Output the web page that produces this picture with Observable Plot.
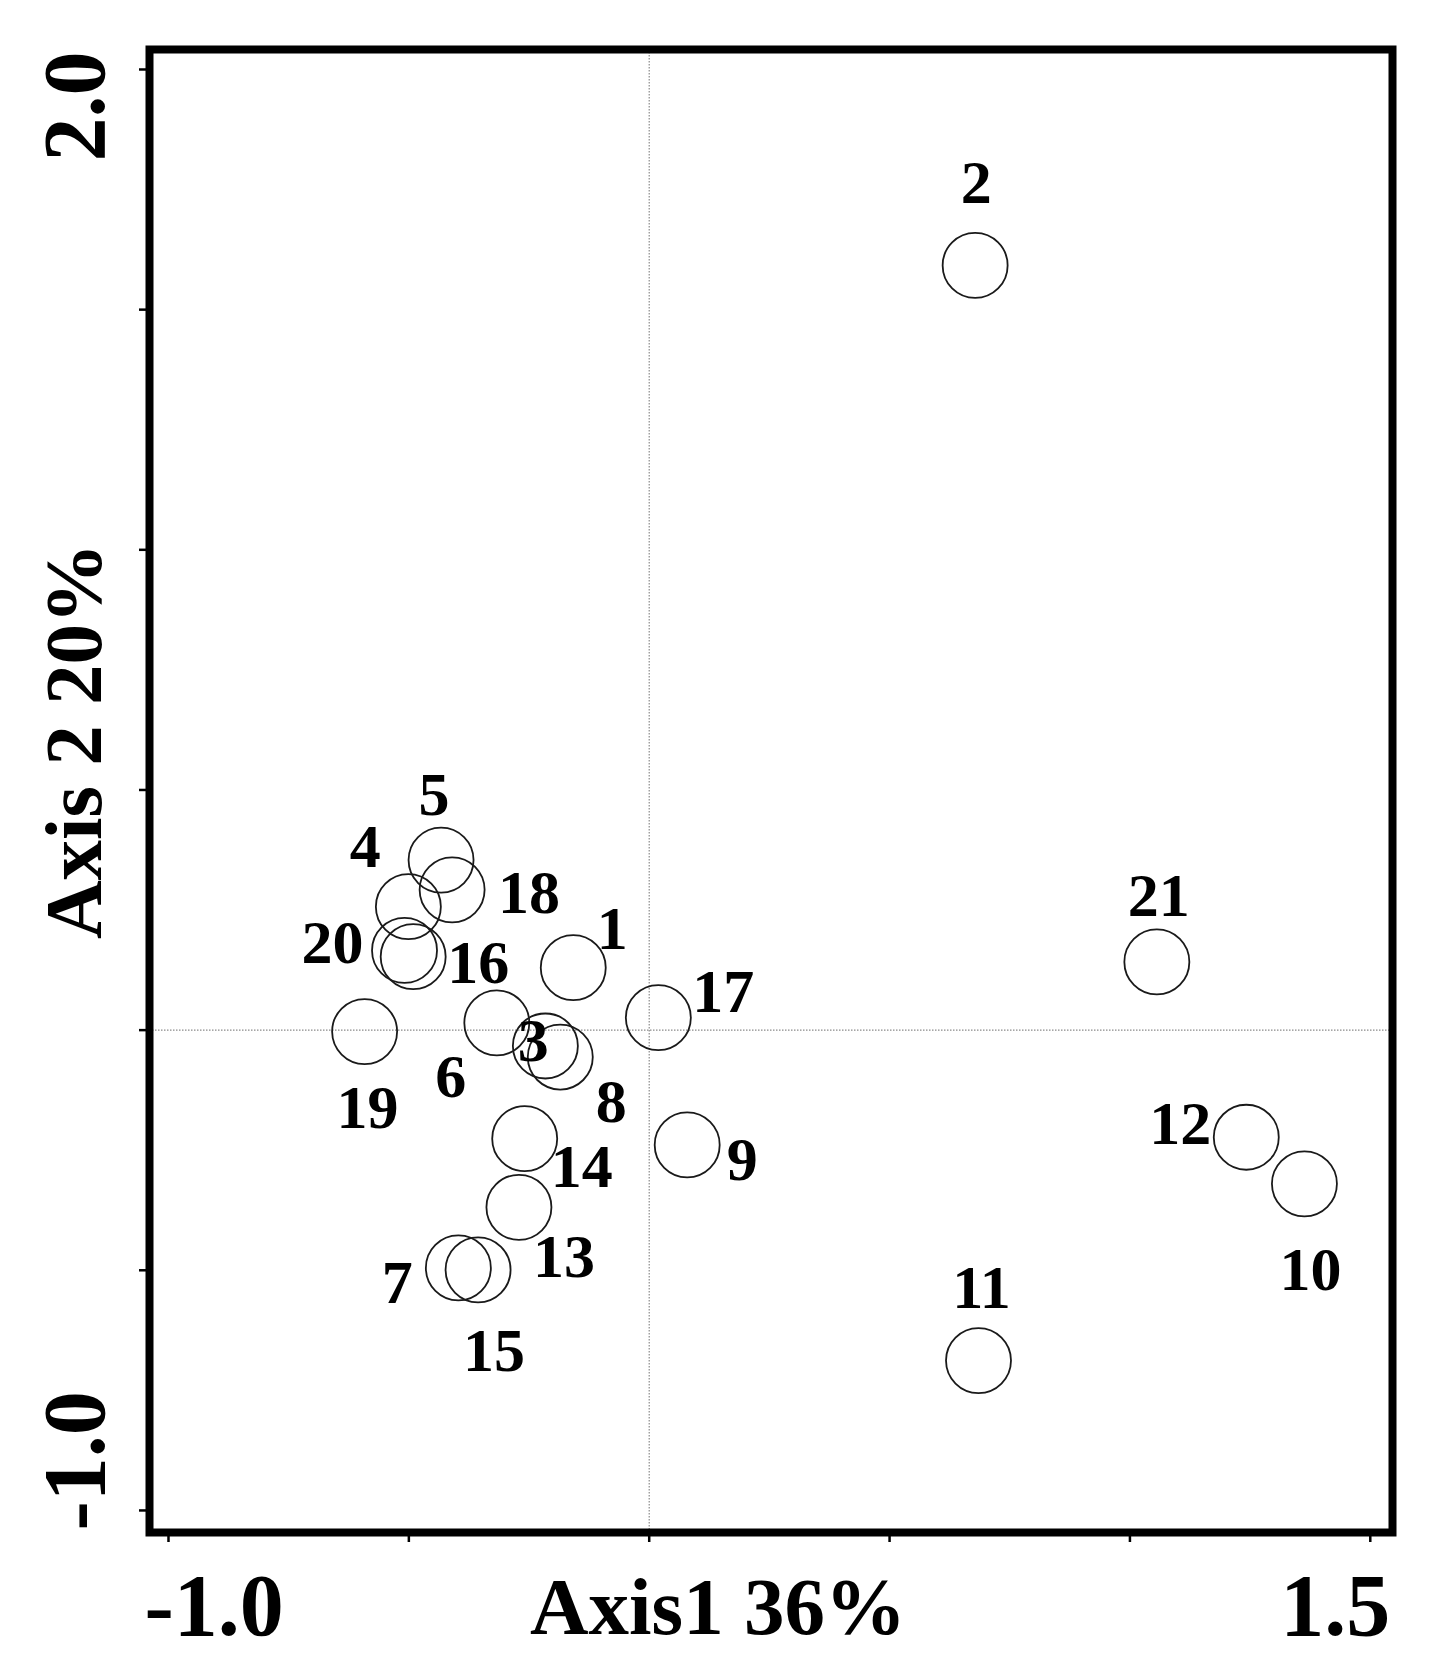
<!DOCTYPE html>
<html>
<head>
<meta charset="utf-8">
<script src="https://cdn.jsdelivr.net/npm/d3@7"></script>
<script src="https://cdn.jsdelivr.net/npm/@observablehq/plot@0.6"></script>
<style>
  html, body { margin: 0; padding: 0; background: #fff; }
  #chart svg { display: block; }
</style>
</head>
<body>
<div id="chart"></div>
<script>
// ---- data ----
const sampleIds = ["1","2","3","4","5","6","7","8","9","10","11","12","13","14","15","16","17","18","19","20","21"];
const axis1Scores = [-0.158, 0.678, -0.216, -0.501, -0.433, -0.317, -0.397, -0.185, 0.079, 1.363, 0.685, 1.242, -0.271, -0.259, -0.356, -0.491, 0.019, -0.410, -0.592, -0.509, 1.056];
const axis2Scores = [0.130, 1.592, -0.033, 0.257, 0.354, 0.015, -0.495, -0.056, -0.239, -0.320, -0.688, -0.223, -0.369, -0.226, -0.499, 0.153, 0.026, 0.292, -0.003, 0.166, 0.142];
const xTicks = [-1.0, -0.5, 0, 0.5, 1.0, 1.5];
const yTicks = [-1.0, -0.5, 0, 0.5, 1.0, 1.5, 2.0];
const xTickLabels = ["-1.0", "1.5"];
const yTickLabels = ["-1.0", "2.0"];
const xTitle = "Axis1 36%";
const yTitle = "Axis 2 20%";

// ---- layout (label offsets in pixels, per sample) ----
const labelOffsets = {
  "1": [39, -39], "2": [1, -82], "3": [-12, -5], "4": [-43, -60], "5": [-7, -65],
  "6": [-46, 54], "7": [-61, 15], "8": [51, 45], "9": [55, 15], "10": [6, 86],
  "11": [3, -72], "12": [-66, -13], "13": [45, 50], "14": [57, 28], "15": [16, 81],
  "16": [65, 7], "17": [65, -25], "18": [77, 3], "19": [3, 77], "20": [-72, -7], "21": [2, -66]
};

const points = sampleIds.map((id, i) => ({id, x: axis1Scores[i], y: axis2Scores[i]}));

const font = "'Liberation Serif', 'Times New Roman', serif";
const tickFont = 88;
const titleFont = 81;
const labelFont = 62;

const labelMarks = points.map(p => Plot.text([p], {
  x: "x", y: "y", text: "id",
  dx: labelOffsets[p.id][0], dy: labelOffsets[p.id][1],
  textAnchor: "middle", lineAnchor: "middle",
  fontSize: labelFont, fontWeight: "bold", fontFamily: font, fill: "#000"
}));

const chart = Plot.plot({
  width: 1440,
  height: 1680,
  marginLeft: 149,
  marginRight: 48,
  marginTop: 49,
  marginBottom: 148,
  style: {background: "#fff", fontFamily: font},
  x: {domain: [-1.0395, 1.5462], axis: null},
  y: {domain: [-1.0459, 2.0416], axis: null},
  marks: [
    Plot.ruleX([0], {stroke: "#8a8a8a", strokeWidth: 1.2, strokeDasharray: "1.5,1.5"}),
    Plot.ruleY([0], {stroke: "#8a8a8a", strokeWidth: 1.2, strokeDasharray: "1.5,1.5"}),
    Plot.dot(points, {x: "x", y: "y", r: 32.5, fill: "none", stroke: "#1a1a1a", strokeWidth: 1.8}),
    ...labelMarks,
    Plot.axisX(xTicks, {anchor: "bottom", tickSize: 10, tickFormat: () => "", label: null, stroke: "#000", strokeWidth: 2.5}),
    Plot.axisY(yTicks, {anchor: "left", tickSize: 10, tickFormat: () => "", label: null, stroke: "#000", strokeWidth: 2.5}),
    Plot.frame({stroke: "#000", strokeWidth: 8}),
    // x tick labels (only ends)
    Plot.text([xTickLabels[0]], {x: [-1.0], frameAnchor: "bottom", textAnchor: "start", lineAnchor: "bottom",
      dx: -24, dy: 102, fontSize: tickFont, fontWeight: "bold", fontFamily: font, fill: "#000"}),
    Plot.text([xTickLabels[1]], {x: [1.5], frameAnchor: "bottom", textAnchor: "end", lineAnchor: "bottom",
      dx: 20, dy: 102, fontSize: tickFont, fontWeight: "bold", fontFamily: font, fill: "#000"}),
    // y tick labels (only ends)
    Plot.text([yTickLabels[0]], {y: [-1.0], frameAnchor: "left", rotate: -90, textAnchor: "start", lineAnchor: "bottom",
      dx: -46, dy: 20, fontSize: tickFont, fontWeight: "bold", fontFamily: font, fill: "#000"}),
    Plot.text([yTickLabels[1]], {y: [2.0], frameAnchor: "left", rotate: -90, textAnchor: "end", lineAnchor: "bottom",
      dx: -46, dy: -18, fontSize: tickFont, fontWeight: "bold", fontFamily: font, fill: "#000"}),
    // axis titles
    Plot.text([xTitle], {frameAnchor: "bottom", textAnchor: "middle", lineAnchor: "bottom",
      dx: -53, dy: 101, fontSize: titleFont, fontWeight: "bold", fontFamily: font, fill: "#000"}),
    Plot.text([yTitle], {frameAnchor: "left", rotate: -90, textAnchor: "middle", lineAnchor: "bottom",
      dx: -49, dy: -50, fontSize: titleFont, fontWeight: "bold", fontFamily: font, fill: "#000"})
  ]
});
document.getElementById("chart").appendChild(chart);
</script>
</body>
</html>
